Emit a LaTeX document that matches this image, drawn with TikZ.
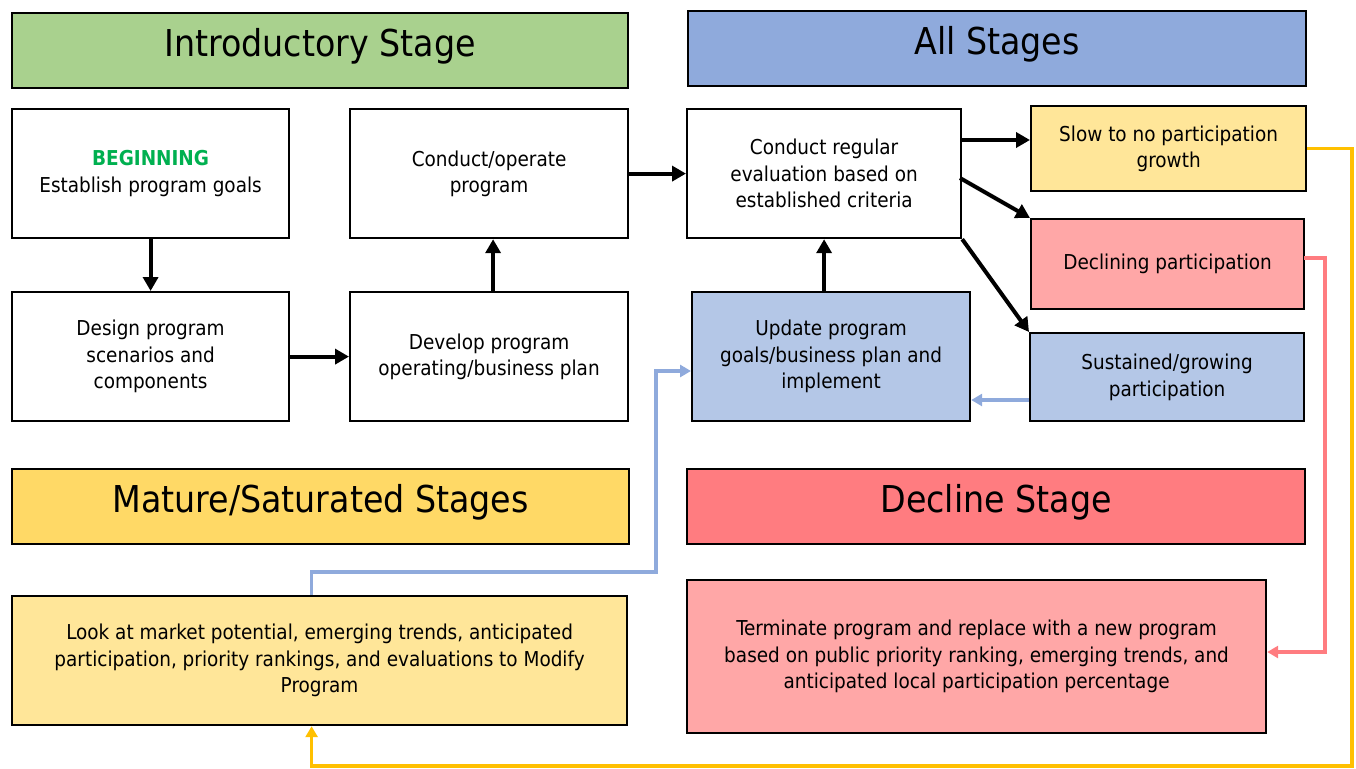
\documentclass[tikz,border=0pt]{standalone}
\usepackage{fontspec}
\setmainfont{DejaVu Sans Condensed}
\usetikzlibrary{arrows.meta}
\definecolor{introG}{HTML}{A9D18E}
\definecolor{allB}{HTML}{8FAADC}
\definecolor{matY}{HTML}{FFD966}
\definecolor{decR}{HTML}{FF7C80}
\definecolor{lightY}{HTML}{FFE699}
\definecolor{lightR}{HTML}{FFA7A7}
\definecolor{lightB}{HTML}{B4C7E7}
\definecolor{begG}{HTML}{00B050}
\definecolor{lineY}{HTML}{FFC000}
\definecolor{lineR}{HTML}{FF7C80}
\definecolor{lineB}{HTML}{8FAADC}
\begin{document}
\begin{tikzpicture}[x=1pt,y=-1pt,
  box/.style={draw=black, line width=2.2pt, anchor=north west, align=center, inner sep=0pt,
    font=\fontsize{20.5}{26.5}\selectfont},
  hdr/.style={box, font=\fontsize{37}{42}\selectfont, text height=27pt, text depth=16pt},
  blk/.style={line width=4pt, -{Triangle[length=14pt,width=15pt]}},
  col/.style={line width=3.4pt, -{Triangle[length=11pt,width=12pt]}}]
\useasboundingbox (0,0) rectangle (1356,768);
% headers
\node[hdr, fill=introG, minimum width=616pt, minimum height=75pt] (intro) at (11,12) {Introductory Stage};
\node[hdr, fill=allB, minimum width=618pt, minimum height=75pt] (all) at (687,10) {All Stages};
\node[hdr, fill=matY, minimum width=617pt, minimum height=75pt] (mat) at (11,468) {Mature/Saturated Stages};
\node[hdr, fill=decR, minimum width=618pt, minimum height=75pt] (dec) at (686,468) {Decline Stage};
% boxes
\node[box, fill=white, minimum width=277pt, minimum height=129pt] (est) at (11,108)
  {{\color{begG}\bfseries BEGINNING}\\Establish program goals};
\node[box, fill=white, minimum width=278pt, minimum height=129pt] (cop) at (349,108)
  {Conduct/operate\\program};
\node[box, fill=white, minimum width=277pt, minimum height=129pt] (des) at (11,291)
  {Design program\\scenarios and\\components};
\node[box, fill=white, minimum width=278pt, minimum height=129pt] (dev) at (349,291)
  {Develop program\\operating/business plan};
\node[box, fill=white, minimum width=274pt, minimum height=129pt] (eval) at (686,108)
  {Conduct regular\\evaluation based on\\established criteria};
\node[box, fill=lightY, minimum width=275pt, minimum height=85pt] (slow) at (1030,105)
  {Slow to no participation\\growth};
\node[box, fill=lightR, minimum width=273pt, minimum height=90pt] (decl) at (1030,218)
  {Declining participation};
\node[box, fill=lightB, minimum width=274pt, minimum height=88pt] (sus) at (1029,332)
  {Sustained/growing\\participation};
\node[box, fill=lightB, minimum width=278pt, minimum height=129pt] (upd) at (691,291)
  {Update program\\goals/business plan and\\implement};
\node[box, fill=lightY, minimum width=615pt, minimum height=129pt] (look) at (11,595)
  {Look at market potential, emerging trends, anticipated\\participation, priority rankings, and evaluations to Modify\\Program};
\node[box, fill=lightR, minimum width=579pt, minimum height=153pt] (term) at (686,579)
  {Terminate program and replace with a new program\\based on public priority ranking, emerging trends, and\\anticipated local participation percentage};
% black arrows
\draw[blk] (est.south) -- (des.north);
\draw[blk] (des.east) -- (dev.west);
\draw[blk] ([xshift=4pt]dev.north) -- ([xshift=4pt]cop.south);
\draw[blk] (cop.east) -- (eval.west);
\draw[blk] (eval.south |- upd.north) -- (eval.south);
\coordinate (e1) at (960,140);
\draw[blk] (e1) -- (slow.west |- e1);
\coordinate (e2) at (960,178);
\draw[blk] (e2) -- (decl.north west);
\draw[blk] (eval.south east) -- (sus.north west);
% coloured connectors
\coordinate (y1) at (1352,766);
\draw[col, lineY] (slow.east) -| (y1) -| ([xshift=-8pt]look.south);
\coordinate (r0) at (1304,258);
\coordinate (r1) at (1325,652);
\draw[col, lineR] (r0) -| (r1) -- (term.east |- r1);
\coordinate (b1) at (1029,400);
\draw[col, lineB] (b1) -- (upd.east |- b1);
\coordinate (b2) at (656,572);
\coordinate (b3) at (656,371);
\draw[col, lineB] ([xshift=-8pt]look.north) |- (b2) -- (b3) -- (upd.west |- b3);
\end{tikzpicture}
\end{document}
